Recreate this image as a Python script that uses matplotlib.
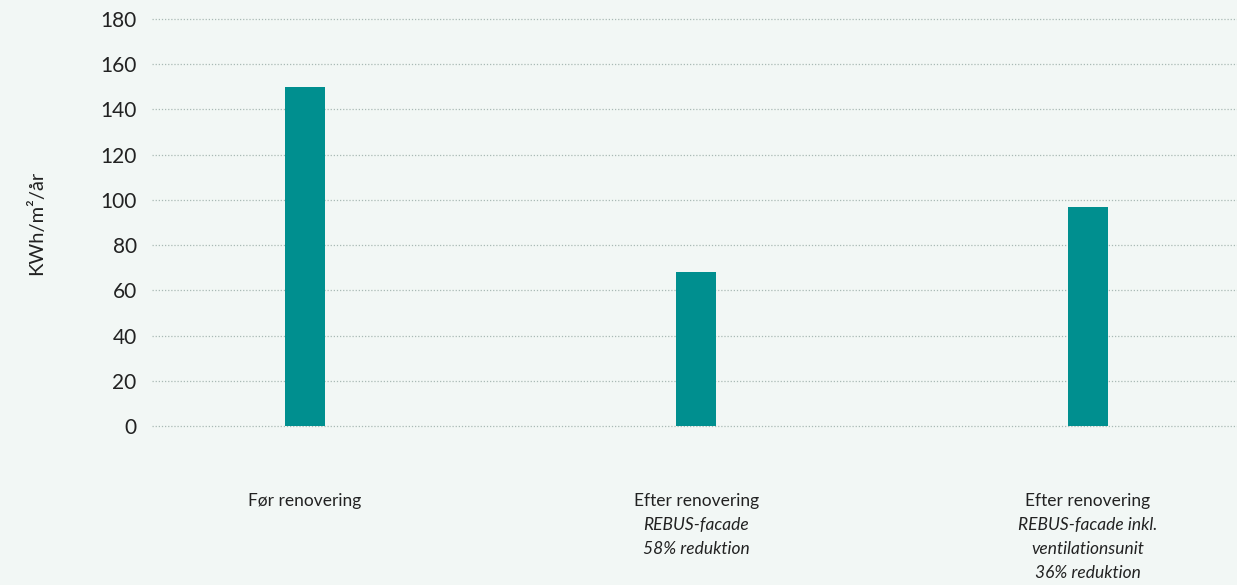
import numpy as np
import matplotlib.pyplot as plt

plt.rcParams['font.family'] = ['Lato', 'DejaVu Sans']

categories = ['Før renovering', 'Efter renovering', 'Efter renovering']
sublines = [[], ['REBUS-facade', '58% reduktion'],
            ['REBUS-facade inkl.', 'ventilationsunit', '36% reduktion']]
values = [150, 68, 97]
yticks = [0, 20, 40, 60, 80, 100, 120, 140, 160, 180]

bg = '#f2f7f5'
teal = '#008f8f'
txt = '#222222'

fig = plt.figure(figsize=(12.37, 5.85), dpi=100, facecolor=bg)
ax = fig.add_axes([152 / 1237, 1 - 426 / 585, 1 - 152 / 1237, (426 - 19) / 585])
ax.set_facecolor(bg)

x = np.arange(len(categories))
ax.bar(x, values, width=0.102, color=teal, zorder=3)

ax.set_xlim(-0.391, 2.381)
ax.set_ylim(0, 180)
ax.set_yticks(yticks)
ax.yaxis.grid(True, linestyle=(0, (1, 1.5)), color='#a9b9b5', linewidth=0.9, zorder=0)
for gl in ax.get_ygridlines():
    gl.set_clip_on(False)
ax.tick_params(axis='y', length=0, pad=11, labelsize=15, labelcolor=txt)
ax.set_xticks([])
for s in ax.spines.values():
    s.set_visible(False)

ax.set_ylabel('KWh/m²/år', fontsize=14.5, color=txt, labelpad=40)

# category labels below the axis: first line upright, rest italic
for i, cat in enumerate(categories):
    lines = [(cat, 'normal')] + [(l, 'italic') for l in sublines[i]]
    for j, (t, style) in enumerate(lines):
        ax.annotate(t, xy=(i, 0), xycoords=('data', 'axes fraction'),
                    xytext=(0, -75 - 24 * j), textcoords='offset pixels',
                    ha='center', va='center', fontsize=12.5, style=style, color=txt)

fig.savefig('out.png', dpi=100, facecolor=bg)
